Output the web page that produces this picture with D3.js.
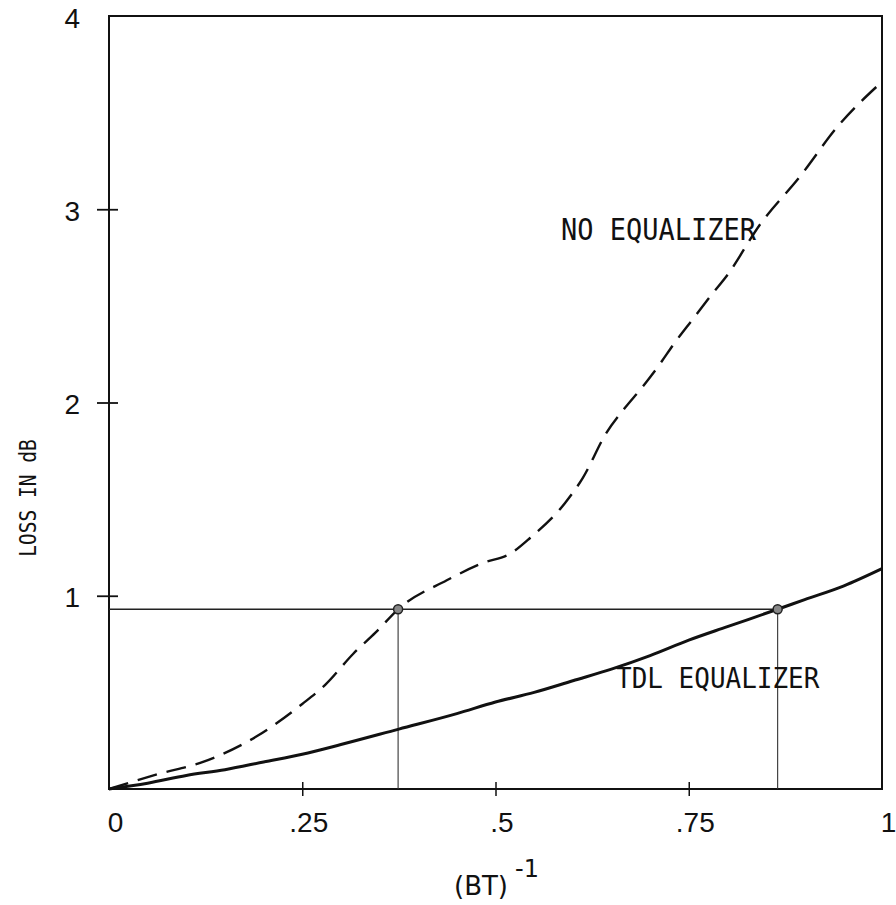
<!DOCTYPE html>
<html>
<head>
<meta charset="utf-8">
<script src="https://cdn.jsdelivr.net/npm/d3@7"></script>
<style>
  body { margin: 0; background: #fff; }
  svg { display: block; }
  .lbl { font-family: "DejaVu Sans Mono", monospace; fill: #111; }
  .tick text { font-family: "Liberation Sans", Arial, sans-serif; fill: #111; }
</style>
</head>
<body>
<div id="chart"></div>
<script>
// (BT)^-1 values and loss in dB
let tdlX    = [0, .05, .1, .15, .2, .25, .3, .375, .45, .5, .55, .6, .65, .7, .75, .8, .865, .9, .95, 1];
let tdlLoss = [0, .03, .07, .1, .14, .18, .23, .31, .39, .45, .5, .56, .62, .69, .77, .84, .93, .98, 1.05, 1.14];

let noEqX    = [0, .066, .118, .19, .25, .28, .316, .345, .374, .437, .484, .52, .545, .59, .613, .643, .667, .69, .711, .732, .755, .78, .8, .842, .894, .943, 1];
let noEqLoss = [0, .08, .135, .27, .44, .54, .7, .81, .93, 1.08, 1.17, 1.22, 1.3, 1.48, 1.61, 1.84, 1.97, 2.08, 2.19, 2.31, 2.43, 2.56, 2.66, 2.92, 3.17, 3.43, 3.66];

// the two marked points on the 0.93 dB level
let markX = [.374, .865];
let markLevel = 0.93;

let xTicks = [0, .25, .5, .75, 1];
let xTickLabels = ["0", ".25", ".5", ".75", "1"];
let yTicks = [1, 2, 3, 4];

function renderChart(){
  let width = 896, height = 905;

  let svg = d3.select("#chart")
    .append("svg")
    .attr("width", width)
    .attr("height", height)

  let x = d3.scaleLinear().domain([0, 1]).range([109, 882]),
      y = d3.scaleLinear().domain([0, 4]).range([789, 16]);

  // frame
  svg.append("rect")
    .attr("x", x(0))
    .attr("y", y(4))
    .attr("width", x(1) - x(0))
    .attr("height", y(0) - y(4))
    .attr("fill", "none")
    .attr("stroke", "#111")
    .attr("stroke-width", 2)

  // x axis, small ticks crossing the baseline
  let xAxis = svg.append("g")
    .attr("transform", `translate(0,${y(0)})`)
    .call(d3.axisBottom(x).tickValues(xTicks).tickSize(7).tickPadding(16)
      .tickFormat((d, i) => xTickLabels[i]))
  xAxis.select(".domain").remove()
  xAxis.selectAll(".tick line")
    .attr("y1", -7)
    .attr("stroke", "#111")
    .attr("stroke-width", 1.5)
    .attr("display", d => (d === 0 || d === 1) ? "none" : null)
  xAxis.selectAll(".tick text")
    .attr("font-size", 28)
    .attr("dx", 6)

  // y axis, ticks crossing the left edge
  let yAxis = svg.append("g")
    .attr("transform", `translate(${x(0)},0)`)
    .call(d3.axisLeft(y).tickValues(yTicks).tickSize(12).tickPadding(17).tickFormat(d3.format("d")))
  yAxis.select(".domain").remove()
  yAxis.selectAll(".tick line")
    .attr("x1", 9)
    .attr("stroke", "#111")
    .attr("stroke-width", 1.8)
    .attr("display", d => d === 4 ? "none" : null)
  yAxis.selectAll(".tick text")
    .attr("font-size", 28)
    .attr("dy", "0.4em")

  // reference lines at the marked level
  svg.append("line")
    .attr("x1", x(0)).attr("x2", x(markX[1]))
    .attr("y1", y(markLevel)).attr("y2", y(markLevel))
    .attr("stroke", "#222").attr("stroke-width", 1.4)

  svg.selectAll(".drop")
    .data(markX)
    .enter()
    .append("line")
      .attr("class", "drop")
      .attr("x1", d => x(d)).attr("x2", d => x(d))
      .attr("y1", y(markLevel)).attr("y2", y(0))
      .attr("stroke", "#333").attr("stroke-width", 1.1)

  let line = d3.line()
    .x(d => x(d[0]))
    .y(d => y(d[1]))
    .curve(d3.curveMonotoneX)

  svg.append("path")
    .datum(noEqX.map((v, i) => [v, noEqLoss[i]]))
    .attr("d", line)
    .attr("fill", "none")
    .attr("stroke", "#111")
    .attr("stroke-width", 2.4)
    .attr("stroke-dasharray", "20,10")

  svg.append("path")
    .datum(tdlX.map((v, i) => [v, tdlLoss[i]]))
    .attr("d", line)
    .attr("fill", "none")
    .attr("stroke", "#111")
    .attr("stroke-width", 3)

  svg.selectAll(".mark")
    .data(markX)
    .enter()
    .append("circle")
      .attr("class", "mark")
      .attr("cx", d => x(d))
      .attr("cy", y(markLevel))
      .attr("r", 4.5)
      .attr("fill", "#888")
      .attr("stroke", "#222")
      .attr("stroke-width", 1.5)

  // curve labels
  svg.append("text")
    .attr("class", "lbl")
    .attr("font-size", 27)
    .attr("transform", "translate(561,240) scale(1,1.12)")
    .text("NO EQUALIZER")

  svg.append("text")
    .attr("class", "lbl")
    .attr("font-size", 26)
    .attr("transform", "translate(616,688) scale(1,1.12)")
    .text("TDL EQUALIZER")

  // axis titles
  svg.append("text")
    .attr("class", "lbl")
    .attr("font-size", 19.5)
    .attr("text-anchor", "middle")
    .attr("transform", "translate(36,498) rotate(-90) scale(1,1.15)")
    .text("LOSS IN dB")

  svg.append("text")
    .attr("x", 454)
    .attr("y", 895)
    .attr("font-family", "DejaVu Sans, sans-serif")
    .attr("font-size", 26)
    .attr("fill", "#111")
    .text("(BT)")

  svg.append("text")
    .attr("x", 515)
    .attr("y", 877)
    .attr("font-family", "DejaVu Sans, sans-serif")
    .attr("font-size", 24)
    .attr("fill", "#111")
    .text("-1")
}

renderChart()
</script>
</body>
</html>
